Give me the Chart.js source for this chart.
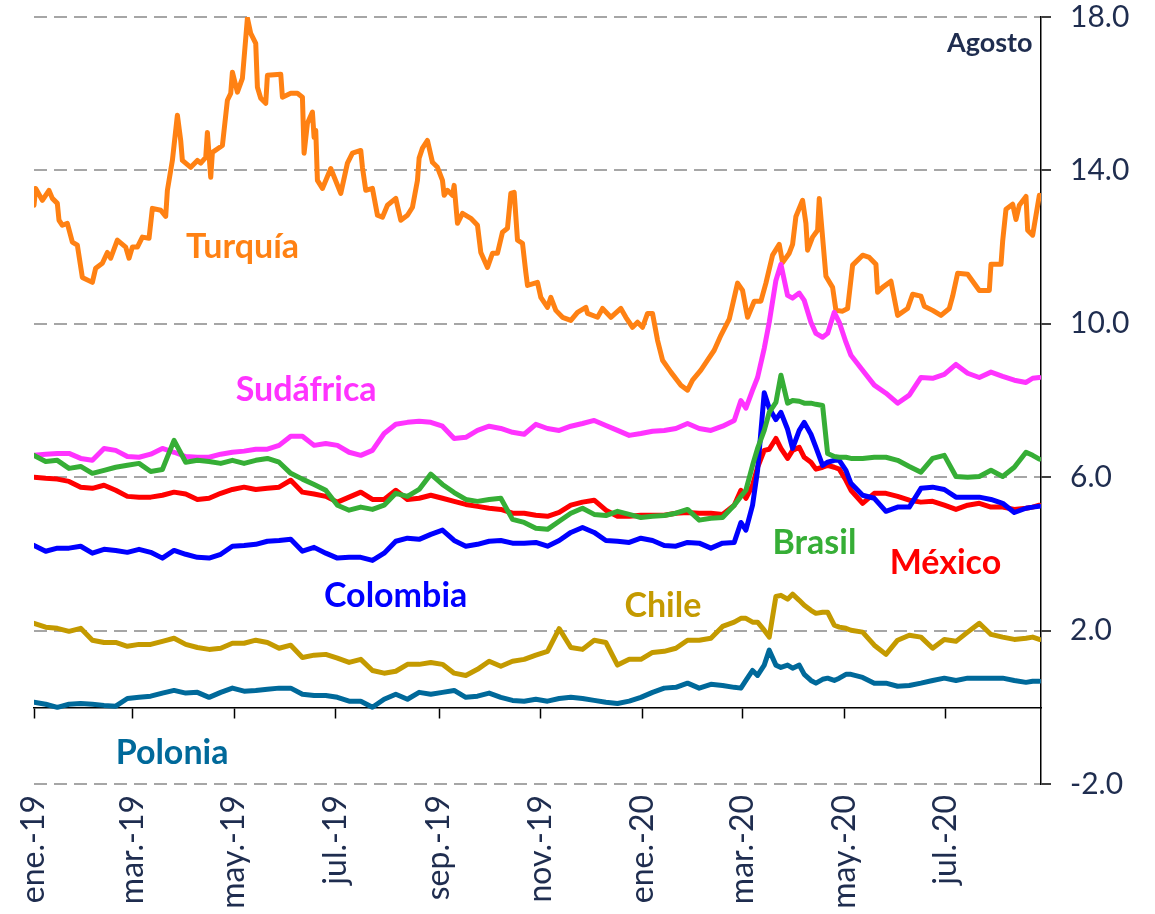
<!DOCTYPE html>
<html lang="es">
<head>
<meta charset="utf-8">
<title>Diferenciales soberanos 2019-2020</title>
<script src="https://cdn.jsdelivr.net/npm/chart.js@4.4.1/dist/chart.umd.min.js"></script>
<style>
  html, body { margin: 0; padding: 0; background: #ffffff; }
  #wrap { width: 1155px; height: 914px; }
</style>
</head>
<body>
<div id="wrap"><canvas id="chart" width="1155" height="914"></canvas></div>
<script>
// Observation dates, as day offsets from 1 January 2019
const days = [
  0, 7, 14, 21, 28, 35, 42, 49, 56, 63,
  70, 77, 84, 91, 98, 105, 112, 119, 126, 133,
  140, 147, 154, 161, 168, 175, 182, 189, 196, 203,
  210, 217, 224, 231, 238, 245, 252, 259, 266, 273,
  280, 287, 294, 301, 308, 315, 322, 329, 336, 343,
  350, 357, 364, 371, 378, 385, 392, 399, 406, 413,
  420,
  424, 427, 431, 434, 438, 441, 445, 448, 452, 455,
  459, 462, 466, 469, 473, 476, 480, 483, 487,
  490, 497, 504, 511, 518, 525, 532, 539, 546, 553,
  560, 567, 574, 581, 588, 595, 599, 603
];

// Turquía is observed on its own, denser set of dates (day offsets from 1 January 2019)
const turquiaDays = [
  0, 1, 5, 9, 11, 14, 15, 17, 20, 23, 26, 29, 35, 37, 41, 44, 46, 50, 55, 57,
  59, 62, 65, 69, 71, 76, 79, 80, 83, 86, 88, 89, 94, 98, 100, 103, 104, 106, 107, 113,
  116, 118, 119, 122, 125, 128, 130, 133, 134, 136, 139, 140, 148, 149, 154, 158, 161, 162, 164, 167,
  168, 169, 170, 173, 178, 184, 188, 191, 196, 197, 199, 203, 206, 209, 212, 217, 220, 224, 227, 230,
  231, 233, 236, 239, 242, 245, 246, 248, 251, 252, 254, 257, 262, 266, 268, 272, 275, 278, 281, 284,
  286, 288, 290, 293, 295, 296, 302, 304, 308, 310, 313, 317, 322, 326, 331, 332, 338, 341, 346, 352,
  355, 359, 362, 365, 368, 371, 374, 377, 382, 388, 392, 395, 400, 404, 408, 412, 417, 422, 425, 428,
  432, 436, 439, 443, 447, 449, 453, 455, 457, 461, 463, 464, 467, 470, 471, 475, 479, 481, 485, 488,
  491, 497, 501, 505, 506, 509, 514, 518, 524, 527, 532, 534, 539, 544, 549, 551, 554, 560, 563, 567,
  573, 574, 580, 581, 583, 587, 589, 591, 595, 596, 599, 603
];

// Month ticks on the date axis (first day of every other month)
const monthTickDays = [0, 59, 120, 181, 243, 304, 365, 425, 486, 547];
const monthTickLabels = ['ene.-19', 'mar.-19', 'may.-19', 'jul.-19', 'sep.-19',
                         'nov.-19', 'ene.-20', 'mar.-20', 'may.-20', 'jul.-20'];
const axisEndDay = 604;

const turquia = [
  13.09, 13.53, 13.22, 13.48, 13.27, 13.14, 12.7, 12.57, 12.62, 12.13, 12.05, 11.21, 11.08, 11.45, 11.58, 11.86, 11.71, 12.18, 12.0, 11.71,
  12.0, 12.0, 12.26, 12.23, 13.01, 12.96, 12.8, 13.48, 14.26, 15.44, 14.78, 14.26, 14.08, 14.26, 14.19, 14.34, 14.99, 13.82, 14.47, 14.65,
  15.83, 16.01, 16.56, 16.04, 16.4, 17.97, 17.57, 17.31, 16.17, 15.88, 15.75, 16.48, 16.51, 15.91, 16.01, 16.01, 15.91, 14.45, 15.23, 15.52,
  14.86, 15.04, 13.74, 13.53, 14.05, 13.4, 14.19, 14.45, 14.52, 14.08, 13.48, 13.53, 12.83, 12.78, 13.09, 13.27, 12.7, 12.83, 13.04, 13.74,
  14.32, 14.58, 14.78, 14.21, 14.08, 13.74, 13.35, 13.48, 13.35, 13.61, 12.62, 12.88, 12.75, 12.57, 11.86, 11.47, 11.84, 11.84, 12.39, 12.49,
  13.4, 13.43, 12.18, 12.1, 11.34, 11.0, 11.08, 10.69, 10.43, 10.69, 10.35, 10.17, 10.09, 10.3, 10.43, 10.27, 10.17, 10.4, 10.17, 10.4,
  10.17, 9.91, 10.04, 9.91, 10.27, 10.27, 9.57, 9.05, 8.74, 8.4, 8.27, 8.53, 8.79, 9.05, 9.31, 9.7, 10.12, 11.06, 10.87, 10.17,
  10.59, 10.59, 11.06, 11.79, 12.07, 11.6, 11.84, 12.07, 12.8, 13.22, 12.62, 11.92, 12.26, 12.44, 13.27, 11.24, 10.95, 10.35, 10.33, 10.4,
  11.53, 11.79, 11.73, 11.55, 10.82, 10.95, 11.11, 10.22, 10.4, 10.77, 10.72, 10.46, 10.35, 10.22, 10.4, 10.72, 11.32, 11.29, 11.11, 10.87,
  10.87, 11.55, 11.55, 12.15, 12.99, 13.12, 12.72, 13.09, 13.32, 12.44, 12.31, 13.35
];

const sudafrica = [
  6.57, 6.6, 6.62, 6.62, 6.49, 6.44, 6.75, 6.7, 6.54, 6.52,
  6.6, 6.75, 6.65, 6.54, 6.52, 6.52, 6.6, 6.65, 6.68, 6.73,
  6.73, 6.83, 7.07, 7.07, 6.83, 6.88, 6.83, 6.65, 6.57, 6.7,
  7.14, 7.38, 7.43, 7.46, 7.43, 7.33, 7.01, 7.04, 7.22, 7.33,
  7.27, 7.17, 7.12, 7.38, 7.27, 7.22, 7.33, 7.4, 7.48, 7.35,
  7.22, 7.09, 7.14, 7.2, 7.22, 7.27, 7.4, 7.27, 7.22, 7.33,
  7.48,
  8.0, 7.8, 8.27, 8.6, 9.36, 10.04, 11.13, 11.55, 10.74, 10.67,
  10.8, 10.61, 10.04, 9.75, 9.65, 9.75, 10.3, 10.04, 9.52,
  9.18, 8.79, 8.4, 8.19, 7.93, 8.14, 8.6, 8.58, 8.68, 8.94,
  8.71, 8.6, 8.74, 8.63, 8.53, 8.47, 8.58, 8.6
];

const brasil = [
  6.57, 6.41, 6.44, 6.23, 6.28, 6.1, 6.18, 6.26, 6.31, 6.36,
  6.15, 6.2, 6.96, 6.39, 6.44, 6.41, 6.36, 6.44, 6.36, 6.44,
  6.49, 6.39, 6.1, 5.95, 5.81, 5.66, 5.27, 5.14, 5.22, 5.16,
  5.27, 5.58, 5.5, 5.68, 6.08, 5.81, 5.6, 5.42, 5.37, 5.42,
  5.45, 4.9, 4.82, 4.67, 4.64, 4.85, 5.06, 5.19, 5.03, 5.0,
  5.11, 5.03, 4.95, 4.98, 5.0, 5.06, 5.16, 4.88, 4.93, 4.95,
  5.27,
  5.5, 5.66, 6.31, 6.75, 7.22, 7.69, 7.95, 8.66, 7.93, 8.0,
  7.98, 7.93, 7.93, 7.9, 7.87, 6.62, 6.54, 6.52, 6.52,
  6.49, 6.49, 6.52, 6.52, 6.44, 6.28, 6.13, 6.49, 6.57, 6.02,
  6.0, 6.02, 6.18, 6.02, 6.26, 6.65, 6.57, 6.47
];

const mexico = [
  6.0, 5.97, 5.95, 5.89, 5.74, 5.71, 5.79, 5.66, 5.5, 5.48,
  5.48, 5.53, 5.61, 5.56, 5.42, 5.45, 5.58, 5.68, 5.74, 5.68,
  5.71, 5.74, 5.92, 5.61, 5.56, 5.5, 5.35, 5.48, 5.61, 5.42,
  5.42, 5.66, 5.42, 5.45, 5.53, 5.45, 5.37, 5.29, 5.24, 5.19,
  5.16, 5.06, 5.06, 5.01, 4.98, 5.08, 5.27, 5.35, 5.4, 5.14,
  4.98, 4.98, 5.01, 5.01, 5.01, 5.06, 5.08, 5.06, 5.06, 5.03,
  5.27,
  5.66, 5.45, 5.79, 6.26, 6.7, 6.73, 7.01, 6.75, 6.49, 6.7,
  6.78, 6.52, 6.39, 6.21, 6.26, 6.31, 6.26, 6.21, 5.92,
  5.66, 5.32, 5.58, 5.58, 5.5, 5.4, 5.35, 5.37, 5.27, 5.16,
  5.27, 5.32, 5.22, 5.22, 5.16, 5.19, 5.22, 5.27
];

const colombia = [
  4.22, 4.07, 4.15, 4.15, 4.2, 4.02, 4.12, 4.09, 4.04, 4.12,
  4.04, 3.89, 4.09, 3.99, 3.91, 3.89, 3.99, 4.2, 4.22, 4.25,
  4.33, 4.35, 4.38, 4.07, 4.17, 4.02, 3.89, 3.91, 3.91, 3.83,
  4.02, 4.33, 4.41, 4.38, 4.51, 4.62, 4.35, 4.2, 4.25, 4.33,
  4.35, 4.28, 4.28, 4.3, 4.2, 4.35, 4.56, 4.69, 4.56, 4.35,
  4.33, 4.3, 4.41, 4.35, 4.22, 4.2, 4.3, 4.28, 4.15, 4.28,
  4.3,
  4.82, 4.62, 5.27, 6.18, 8.2, 7.8, 7.5, 7.69, 7.25, 6.75,
  7.22, 7.43, 7.12, 6.78, 6.31, 6.39, 6.44, 6.44, 6.18,
  5.84, 5.53, 5.45, 5.11, 5.22, 5.22, 5.71, 5.74, 5.68, 5.48,
  5.48, 5.48, 5.42, 5.32, 5.08, 5.19, 5.22, 5.24
];

const chile = [
  2.19, 2.09, 2.06, 1.98, 2.06, 1.75, 1.69, 1.69, 1.59, 1.64,
  1.64, 1.72, 1.8, 1.64, 1.56, 1.51, 1.54, 1.67, 1.67, 1.75,
  1.69, 1.54, 1.62, 1.3, 1.36, 1.38, 1.28, 1.17, 1.25, 0.96,
  0.89, 0.94, 1.12, 1.12, 1.17, 1.12, 0.89, 0.83, 0.99, 1.2,
  1.07, 1.2, 1.25, 1.36, 1.46, 2.05, 1.56, 1.51, 1.75, 1.69,
  1.1, 1.25, 1.25, 1.43, 1.46, 1.54, 1.75, 1.75, 1.8, 2.11,
  2.22,
  2.32, 2.32, 2.22, 2.22, 2.01, 1.83, 2.89, 2.92, 2.82, 2.95,
  2.79, 2.66, 2.53, 2.45, 2.48, 2.48, 2.14, 2.09, 2.06,
  2.01, 1.96, 1.62, 1.38, 1.75, 1.88, 1.83, 1.54, 1.77, 1.72,
  1.96, 2.19, 1.9, 1.83, 1.77, 1.8, 1.83, 1.77
];

const polonia = [
  0.13, 0.08, 0.0, 0.08, 0.1, 0.08, 0.05, 0.03, 0.23, 0.26,
  0.29, 0.37, 0.44, 0.37, 0.39, 0.26, 0.39, 0.5, 0.42, 0.44,
  0.47, 0.5, 0.5, 0.34, 0.31, 0.31, 0.26, 0.16, 0.16, 0.0,
  0.21, 0.34, 0.21, 0.39, 0.34, 0.39, 0.44, 0.26, 0.29, 0.37,
  0.26, 0.18, 0.16, 0.21, 0.16, 0.23, 0.26, 0.23, 0.18, 0.13,
  0.1, 0.16, 0.26, 0.39, 0.5, 0.52, 0.63, 0.5, 0.6, 0.57,
  0.52,
  0.5, 0.7, 0.96, 0.83, 1.1, 1.49, 1.1, 1.04, 1.1, 1.02,
  1.1, 0.86, 0.7, 0.63, 0.73, 0.76, 0.7, 0.76, 0.86,
  0.86, 0.78, 0.63, 0.63, 0.55, 0.57, 0.63, 0.7, 0.76, 0.7,
  0.76, 0.76, 0.76, 0.76, 0.7, 0.65, 0.68, 0.68
];

// Colours
const C_TURQUIA = '#FF8113';
const C_SUDAFRICA = '#FF33FF';
const C_BRASIL = '#36AE36';
const C_MEXICO = '#FF0000';
const C_COLOMBIA = '#0000FF';
const C_CHILE = '#C49A00';
const C_POLONIA = '#00699A';
const NAVY = '#1F2D4F';
const FONT = 'Lato, "Open Sans", "DejaVu Sans", sans-serif';

// Series names written inside the plot, anchored in data units (day, value)
const annotations = [
  { text: 'Turquía',   color: C_TURQUIA,   day: 125.1, value: 11.71, align: 'center', size: 34 },
  { text: 'Sudáfrica', color: C_SUDAFRICA, day: 163.2, value: 8.0,   align: 'center', size: 34 },
  { text: 'Colombia',  color: C_COLOMBIA,  day: 216.9, value: 2.61,  align: 'center', size: 34 },
  { text: 'Chile',     color: C_CHILE,     day: 377.2, value: 2.35,  align: 'center', size: 34 },
  { text: 'Brasil',    color: C_BRASIL,    day: 468.1, value: 3.99,  align: 'center', size: 34 },
  { text: 'México',    color: C_MEXICO,    day: 546.7, value: 3.47,  align: 'center', size: 34 },
  { text: 'Polonia',   color: C_POLONIA,   day: 82.8,  value: -1.49, align: 'center', size: 34 },
  { text: 'Agosto',    color: NAVY,        day: 598.9, value: 17.08, align: 'right',  size: 27 }
];

const toPoints = (xs, values) => values.map((v, i) => ({ x: xs[i], y: v }));

function line(label, xs, values, color) {
  return {
    label,
    data: toPoints(xs, values),
    borderColor: color,
    backgroundColor: color,
    borderWidth: 5,
    pointRadius: 0,
    pointHoverRadius: 0,
    tension: 0,
    fill: false,
    borderJoinStyle: 'round',
    borderCapStyle: 'round',
    xAxisID: 'x',
    yAxisID: 'y'
  };
}

// First dataset is painted last (on top)
const datasets = [
  line('Polonia', days, polonia, C_POLONIA),
  line('Chile', days, chile, C_CHILE),
  line('Brasil', days, brasil, C_BRASIL),
  line('Colombia', days, colombia, C_COLOMBIA),
  line('México', days, mexico, C_MEXICO),
  line('Sudáfrica', days, sudafrica, C_SUDAFRICA),
  line('Turquía', turquiaDays, turquia, C_TURQUIA)
];

const setMonthTicks = scale => {
  scale.ticks = monthTickDays.map(v => ({ value: v }));
};

const seriesLabels = {
  id: 'seriesLabels',
  afterDatasetsDraw(chart) {
    const { ctx, scales } = chart;
    ctx.save();
    ctx.textBaseline = 'alphabetic';
    for (const a of annotations) {
      ctx.font = `bold ${a.size}px ${FONT}`;
      ctx.fillStyle = a.color;
      ctx.textAlign = a.align;
      ctx.fillText(a.text, scales.x.getPixelForValue(a.day), scales.y.getPixelForValue(a.value));
    }
    ctx.restore();
  }
};

Chart.defaults.font.family = FONT;

new Chart(document.getElementById('chart'), {
  type: 'line',
  data: { datasets },
  plugins: [seriesLabels],
  options: {
    responsive: false,
    devicePixelRatio: 1,
    animation: false,
    events: [],
    layout: { padding: { left: 34, top: 17, right: 0, bottom: 0 } },
    plugins: { legend: { display: false }, tooltip: { enabled: false } },
    scales: {
      // date labels along the bottom edge
      x: {
        type: 'linear',
        position: 'bottom',
        min: 0,
        max: axisEndDay,
        afterBuildTicks: setMonthTicks,
        afterFit: s => { s.height = 130; },
        grid: { display: false, drawTicks: false },
        border: { display: false },
        ticks: {
          autoSkip: false,
          minRotation: 90,
          maxRotation: 90,
          padding: 11,
          color: NAVY,
          font: { size: 32, family: FONT },
          callback: v => monthTickLabels[monthTickDays.indexOf(v)]
        }
      },
      // horizontal axis line crossing at zero, with tick marks
      x0: {
        axis: 'x',
        type: 'linear',
        position: { y: 0 },
        min: 0,
        max: axisEndDay,
        afterBuildTicks: setMonthTicks,
        afterFit: s => { s.height = 0; },
        grid: {
          drawOnChartArea: false,
          drawTicks: true,
          tickLength: 10,
          tickColor: '#000000',
          tickWidth: 1.5,
          color: '#000000'
        },
        border: { display: true, color: '#000000', width: 1.5 },
        ticks: { display: false }
      },
      y: {
        type: 'linear',
        position: 'right',
        min: -2,
        max: 18,
        afterFit: s => { s.width = 114; s.paddingTop = 0; s.paddingBottom = 0; },
        grid: {
          color: '#A6A6A6',
          lineWidth: 2,
          drawTicks: true,
          tickLength: 10,
          tickColor: '#000000',
          tickWidth: 1.5
        },
        border: { display: true, color: '#000000', width: 1.5, dash: [13, 7] },
        ticks: {
          stepSize: 4,
          padding: 19,
          color: NAVY,
          font: { size: 30, family: FONT, lineHeight: 1.0 },
          callback: v => v.toFixed(1)
        }
      }
    }
  }
});
</script>
</body>
</html>
